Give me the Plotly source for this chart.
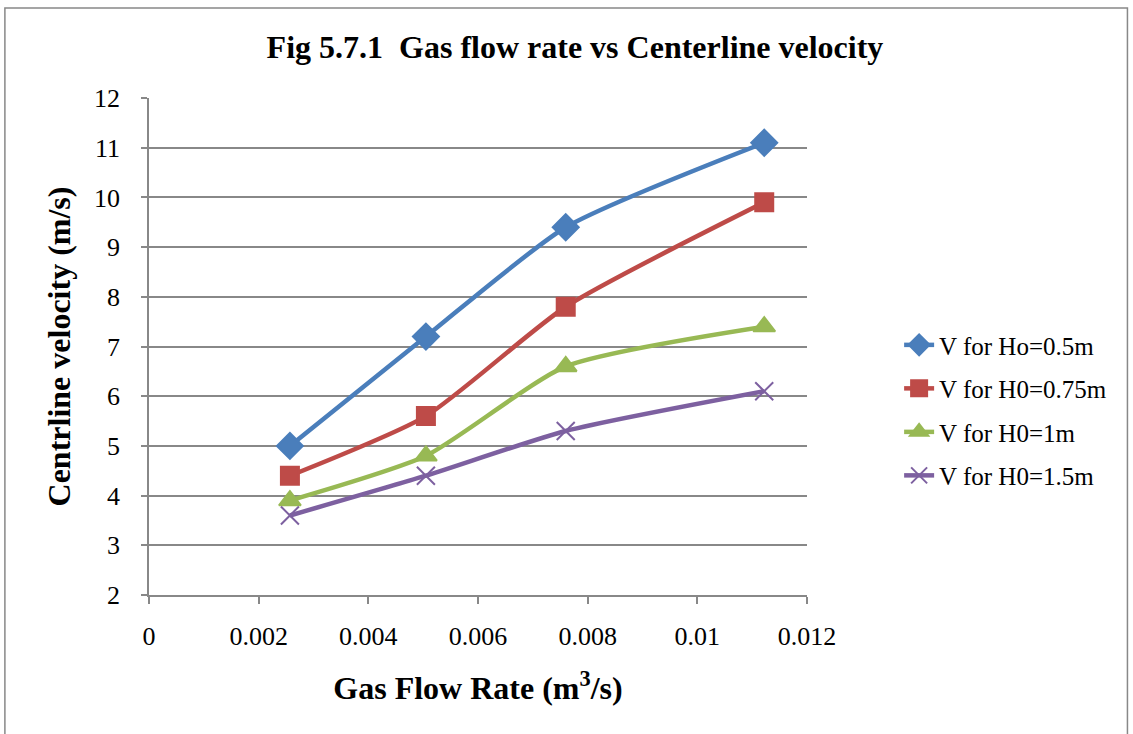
import plotly.graph_objects as go

flow = [0.00257, 0.00505, 0.0076, 0.01122]
v_h05 = [5.0, 7.2, 9.4, 11.1]
v_h075 = [4.4, 5.6, 7.8, 9.9]
v_h1 = [3.9, 4.8, 6.6, 7.4]
v_h15 = [3.6, 4.4, 5.3, 6.1]

names = ["V for Ho=0.5m", "V for H0=0.75m", "V for H0=1m", "V for H0=1.5m"]
colors = ["#4a7ebb", "#be4b48", "#98b954", "#7d60a0"]
symbols = ["diamond", "square", "triangle-up", "x-thin"]
sizes = [20, 18, 19, 18]
series = [v_h05, v_h075, v_h1, v_h15]

font = "Liberation Serif, Times New Roman, serif"

fig = go.Figure()
for i, (n, c, s, sz, ys) in enumerate(zip(names, colors, symbols, sizes, series)):
    fig.add_trace(go.Scatter(
        x=flow, y=ys, name=n, mode="lines+markers", legendgroup=f"g{i}",
        line=dict(color=c, width=4.5, shape="spline", smoothing=0.6),
        marker=dict(symbol=s, size=sz, color=c, line=dict(color=c, width=2)),
    ))

fig.update_layout(
    width=1133, height=734,
    paper_bgcolor="white", plot_bgcolor="white",
    margin=dict(l=149, r=326, t=98, b=139),
    font=dict(family=font, size=26, color="black"),
    title=dict(text="<b>Fig 5.7.1  Gas flow rate vs Centerline velocity</b>",
               x=0.5075, xanchor="center", y=0.936, yanchor="middle",
               font=dict(size=32, family=font)),
    legend=dict(x=1.14, y=0.372, xanchor="left", yanchor="middle",
                font=dict(size=25, family=font), tracegroupgap=8,
                itemsizing="trace", bgcolor="rgba(0,0,0,0)"),
    showlegend=True,
)
fig.update_xaxes(
    range=[0, 0.012], tickvals=[0, 0.002, 0.004, 0.006, 0.008, 0.01, 0.012],
    ticktext=["0", "0.002", "0.004", "0.006", "0.008", "0.01", "0.012"],
    showgrid=False, showline=True, linecolor="#888888", linewidth=1.5,
    ticks="outside", ticklen=7, tickcolor="#888888", tickwidth=1.5,
    ticklabelstandoff=10, zeroline=False,
    title=dict(text="<b>Gas Flow Rate (m<sup>3</sup>/s)</b>", font=dict(size=32, family=font), standoff=27),
)
fig.update_yaxes(
    range=[2, 12], dtick=1, showgrid=True, gridcolor="#888888", gridwidth=1.5,
    showline=True, linecolor="#888888", linewidth=1.5,
    ticks="outside", ticklen=6, tickcolor="#888888", tickwidth=1.5,
    ticklabelstandoff=16, zeroline=False,
    title=dict(text="<b>Centrline velocity (m/s)</b>", font=dict(size=32, family=font), standoff=14),
)
fig.add_shape(type="rect", xref="paper", yref="paper", x0=-0.219, x1=1.487, y0=-0.5, y1=1.181,
              line=dict(color="#888888", width=1.5), layer="below")
fig.write_html("out.html")
